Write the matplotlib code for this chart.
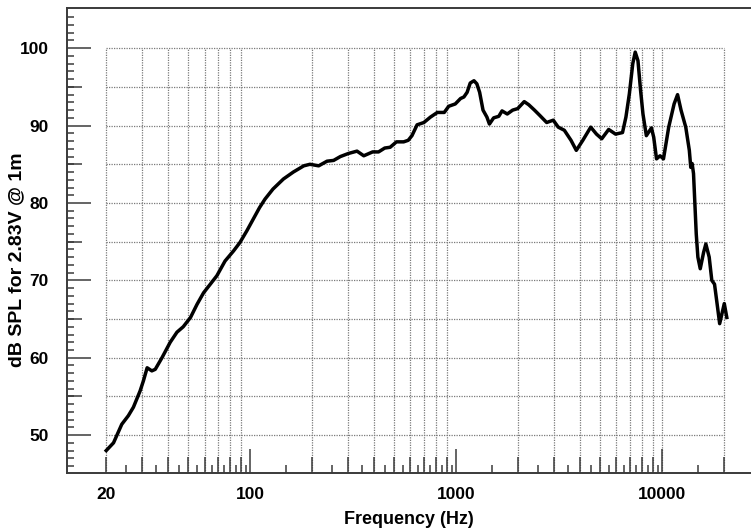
import numpy as np
import matplotlib
matplotlib.use("Agg")
import matplotlib.pyplot as plt

# frequency response
freq = [20, 21.7, 23.8, 25.6, 27.1, 29.2, 30.3, 31.6, 33.3, 34.6, 37.3, 40.9, 44.1, 47.3,
        51.3, 55.2, 59.4, 64.0, 68.9, 75.5, 83.0, 89.2, 96.3, 111, 118, 129, 145, 162,
        182, 195, 215, 236, 254, 274, 300, 330, 356, 393, 420, 450, 478, 513, 556, 585,
        610, 646, 697, 750, 810, 875, 920, 990, 1050, 1090, 1130, 1170, 1220, 1260, 1300,
        1350, 1410, 1450, 1520, 1610, 1670, 1770, 1880, 1990, 2140, 2250, 2400, 2550,
        2750, 2960, 3130, 3350, 3610, 3830, 4120, 4500, 4800, 5090, 5500, 5940, 6420,
        6670, 6930, 7200, 7400, 7630, 7860, 8070, 8380, 8870, 9100, 9390, 9770, 10150,
        10760, 11430, 11880, 12350, 13020, 13550, 13770, 13980, 14200, 14640, 14910,
        15310, 15890, 16300, 16920, 17420, 17960, 18580, 19020, 19520, 20030, 20600]
spl = [48.0, 49.0, 51.4, 52.5, 53.6, 55.7, 57.0, 58.7, 58.3, 58.5, 60.0, 62.0, 63.3, 64.0,
       65.2, 66.9, 68.4, 69.5, 70.6, 72.5, 73.8, 74.9, 76.4, 79.4, 80.5, 81.8, 83.1, 84.0,
       84.8, 85.0, 84.8, 85.4, 85.5, 86.0, 86.4, 86.7, 86.1, 86.6, 86.6, 87.1, 87.2, 87.9,
       87.9, 88.1, 88.7, 90.1, 90.4, 91.1, 91.7, 91.7, 92.5, 92.8, 93.5, 93.7, 94.3, 95.5,
       95.8, 95.4, 94.3, 92.0, 91.1, 90.2, 91.0, 91.2, 91.9, 91.5, 92.0, 92.2, 93.1, 92.7,
       92.0, 91.3, 90.4, 90.7, 89.8, 89.4, 88.1, 86.8, 88.1, 89.8, 88.9, 88.3, 89.5, 88.9,
       89.1, 91.1, 94.1, 98.0, 99.5, 98.4, 94.5, 91.5, 88.7, 89.7, 88.5, 85.7, 86.1, 85.7,
       89.8, 92.8, 94.0, 92.0, 89.8, 86.8, 84.6, 85.1, 83.8, 76.0, 73.0, 71.5, 73.6, 74.7,
       73.0, 70.0, 69.5, 66.5, 64.4, 65.7, 67.0, 65.2]

x_labels = ["100", "1000", "10000"]
x_major = [100, 1000, 10000]
y_labels = [50, 60, 70, 80, 90, 100]

plt.rcParams['font.family'] = ['Liberation Sans', 'DejaVu Sans']
plt.rcParams['font.weight'] = 'bold'

fig = plt.figure(figsize=(7.51, 5.28), dpi=100)
ax = fig.add_axes([67/751, 1 - 473/528, 1 - 67/751, 465/528])
ax.set_xscale("log")
ax.set_xlim(12.9, 27000)
ax.set_ylim(45.1, 105.2)

# grid only inside 20 Hz - 20 kHz, up to 100 dB
decades = [10, 100, 1000]
vgrid = [m * d for d in decades for m in range(2, 10)] + [10000, 20000]
vgrid = [v for v in vgrid if v >= 20]
hgrid = np.arange(50, 101, 5)
gstyle = dict(color="#7a7a7a", lw=0.9, linestyles=(0, (1, 1)), zorder=1)
ax.vlines(vgrid, 45.1, 100, **gstyle)
ax.hlines(hgrid, 20, 20000, **gstyle)

ax.plot(freq, spl, color="black", lw=2.5, zorder=3, solid_joinstyle="round")

# spines
for s in ["left", "top", "bottom"]:
    ax.spines[s].set_color("#3a3a3a")
    ax.spines[s].set_linewidth(1.4)
ax.spines["right"].set_visible(False)

tick_col = "#3a3a3a"
# x ticks: decades tall, 2..9 medium, half steps small
ax.set_xticks(x_major)
ax.set_xticks([v for v in vgrid if v not in x_major], minor=True)
ax.xaxis.set_major_formatter(matplotlib.ticker.FixedFormatter(x_labels))
ax.xaxis.set_minor_formatter(matplotlib.ticker.FuncFormatter(lambda v, p: "20" if abs(v - 20) < 0.1 else ""))
ax.tick_params(axis="x", which="major", direction="in", length=17, width=1.1, color=tick_col,
               labelsize=12.5, pad=10)
ax.tick_params(axis="x", which="minor", direction="in", length=11.5, width=1.1, color=tick_col,
               labelsize=12.5, pad=10)
half = [m * d for d in decades for m in np.arange(2.5, 10, 1.0)] + [1.5 * d for d in [100, 1000, 10000]]
half = [h for h in half if 20 < h < 20000]
ax.vlines(half, 0, 8 / 465, transform=ax.get_xaxis_transform(), color=tick_col, lw=1.1, zorder=4)

# y ticks: 10s tall, 5s medium, 1s small
ax.set_yticks(y_labels)
ax.set_yticks([v for v in range(46, 105) if v % 10 != 0], minor=True)
ax.tick_params(axis="y", which="major", direction="in", length=17, width=1.1, color=tick_col,
               labelsize=12.5, pad=13)
ax.tick_params(axis="y", which="minor", direction="in", length=5, width=1.1, color=tick_col)
fives = [v for v in range(45, 105, 5) if v % 10 != 0 and v > 45.1]
ax.hlines(fives, 0, 15 / 684, transform=ax.get_yaxis_transform(), color=tick_col, lw=1.1, zorder=4)

ax.set_xlabel("Frequency (Hz)", fontsize=13, fontweight="bold")
ax.xaxis.set_label_coords(0.5, -(511 - 473) / 465)
ax.set_ylabel("dB SPL for 2.83V @ 1m", fontsize=14, fontweight="bold")
ax.yaxis.set_label_coords(-(67 - 25) / 684, 1 - (260 - 8) / 465)

fig.savefig("out.png", dpi=100)
